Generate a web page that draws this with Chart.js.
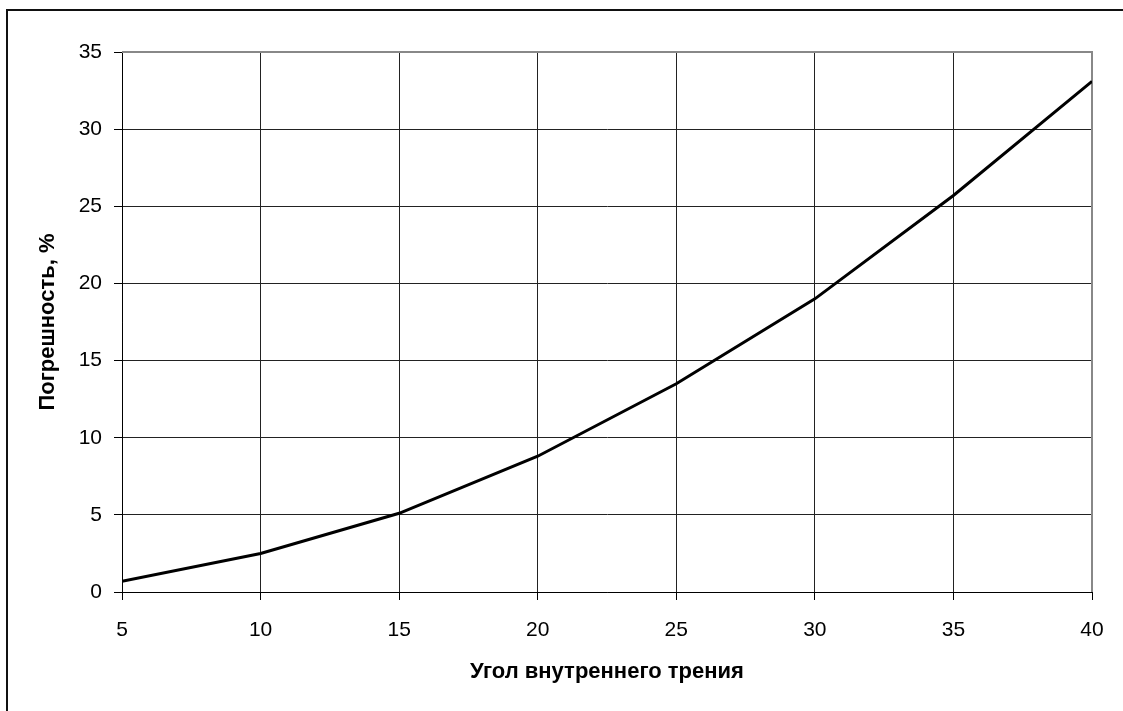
<!DOCTYPE html>
<html lang="ru">
<head>
<meta charset="utf-8">
<title>Погрешность</title>
<script src="https://cdn.jsdelivr.net/npm/chart.js@4/dist/chart.umd.min.js"></script>
<style>
  html, body { margin: 0; padding: 0; background: #fff; overflow: hidden; }
  .wrap { position: relative; width: 1123px; height: 711px; }
  .frame {
    position: absolute; left: 6px; top: 9px; width: 1200px; height: 800px;
    border-left: 2px solid #111; border-top: 2px solid #111;
  }
  canvas { position: absolute; left: 0; top: 0; }
</style>
</head>
<body>
<div class="wrap">
  <div class="frame"></div>
  <canvas id="chart" width="1123" height="711"></canvas>
</div>
<script>
  // данные с графика
  const angles = [5, 10, 15, 20, 25, 30, 35, 40];
  const errors = [0.7, 2.5, 5.1, 8.8, 13.5, 19.0, 25.7, 33.1];
  const xTitle = 'Угол внутреннего трения';
  const yTitle = 'Погрешность, %';

  const font = "'Liberation Sans', Arial, sans-serif";

  // серая рамка области построения (сверху и справа)
  const plotBorder = {
    id: 'plotBorder',
    beforeDatasetsDraw(chart) {
      const { ctx, chartArea: a } = chart;
      ctx.save();
      ctx.strokeStyle = '#888';
      ctx.lineWidth = 2;
      ctx.beginPath();
      ctx.moveTo(a.left, a.top);
      ctx.lineTo(a.right, a.top);
      ctx.lineTo(a.right, a.bottom);
      ctx.stroke();
      ctx.restore();
    }
  };

  new Chart(document.getElementById('chart'), {
    type: 'line',
    data: {
      datasets: [{
        data: angles.map((a, i) => ({ x: a, y: errors[i] })),
        borderColor: '#000',
        borderWidth: 3,
        pointRadius: 0,
        tension: 0,
        fill: false
      }]
    },
    options: {
      responsive: false,
      animation: false,
      layout: { padding: { left: 24, top: 52, right: 31, bottom: 26 } },
      plugins: { legend: { display: false }, tooltip: { enabled: false } },
      scales: {
        x: {
          type: 'linear',
          min: 5, max: 40,
          afterFit: s => { s.height = 93; },
          ticks: { stepSize: 5, padding: 18, color: '#000', font: { family: font, size: 21 } },
          grid: { color: '#222', lineWidth: 1, tickLength: 8, tickColor: '#000' },
          border: { color: '#000', width: 1 },
          title: { display: true, text: xTitle, color: '#000', padding: 0,
                   font: { family: font, size: 22, weight: 'bold' } }
        },
        y: {
          min: 0, max: 35,
          afterFit: s => { s.width = 98; },
          ticks: { stepSize: 5, padding: 12, color: '#000', font: { family: font, size: 21 } },
          grid: { color: '#222', lineWidth: 1, tickLength: 8, tickColor: '#000' },
          border: { color: '#000', width: 1 },
          title: { display: true, text: yTitle, color: '#000', padding: { top: 11 },
                   font: { family: font, size: 22, weight: 'bold' } }
        }
      }
    },
    plugins: [plotBorder]
  });
</script>
</body>
</html>
